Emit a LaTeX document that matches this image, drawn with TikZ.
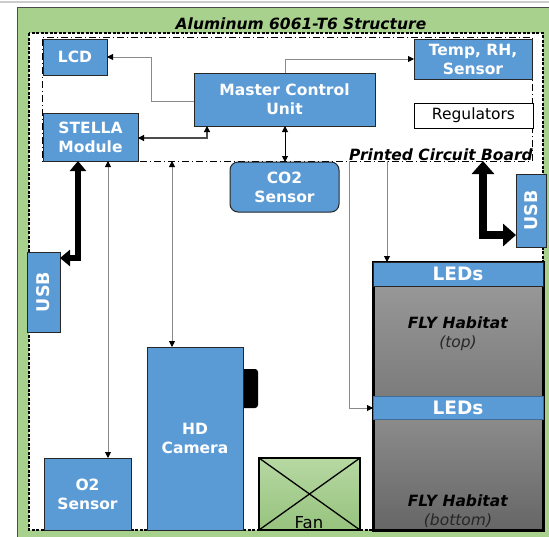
\documentclass[tikz,border=0pt]{standalone}
\usepackage{fontspec}
\setmainfont{DejaVu Sans}
\usetikzlibrary{arrows.meta}
\definecolor{boxblue}{HTML}{5B9BD5}
\definecolor{alugreen}{HTML}{A9D18E}
\definecolor{edgec}{HTML}{262626}
\definecolor{wirec}{HTML}{8A8A8A}
\definecolor{fantop}{HTML}{B7D8A3}
\definecolor{fanbot}{HTML}{96C37D}
\definecolor{habA}{HTML}{979797}
\definecolor{habB}{HTML}{7C7C7C}
\definecolor{habC}{HTML}{8B8B8B}
\definecolor{habD}{HTML}{666666}
\begin{document}
\begin{tikzpicture}[x=1pt,y=-1pt,
  lbl/.style={font=\fontsize{15.5}{19}\selectfont\bfseries, text=white, align=center},
  bbox/.style={draw=edgec, line width=1pt, fill=boxblue, inner sep=0pt, outer sep=0pt, anchor=north west, lbl},
  wire/.style={draw=wirec, line width=0.9pt},
  tip/.style={>={Triangle[length=6pt,width=6pt,color=black]}},
  ledbar/.style={bbox, font=\fontsize{18.5}{22}\selectfont\bfseries},
  usbbox/.style={draw=edgec, line width=1pt, fill=boxblue, inner sep=0pt, outer sep=0pt, rotate=90, lbl, font=\fontsize{17.5}{20}\selectfont\bfseries},
  habtext/.style={font=\fontsize{15.5}{19}\selectfont, text=black, align=center}
]
\useasboundingbox (0,0) rectangle (549,536);
% top gray rule
\draw[gray!40, line width=2pt] (0,2) -- (549,2);
% aluminium structure
\filldraw[fill=alugreen, draw=gray!60!black, line width=0.8pt] (17,7) rectangle (570,560);
\node[font=\fontsize{15.5}{19}\selectfont\bfseries\itshape, anchor=base] (title) at (301,29) {Aluminum 6061-T6 Structure};
% inner white area
\filldraw[fill=white, draw=black, line width=1.1pt, dash pattern=on 3pt off 1.5pt] (29,33) rectangle (543,530);
% printed circuit board
\node[draw=black, line width=0.8pt, dash pattern=on 7pt off 3pt on 1pt off 3pt, minimum width=490, minimum height=124, inner sep=0pt, outer sep=0pt, anchor=north west] (pcb) at (42,37) {};
% fly habitat
\shade[top color=habA, bottom color=habB] (373,286) rectangle (543,396);
\shade[top color=habC, bottom color=habD] (373,419) rectangle (543,530);
\node[draw=black, line width=3pt, minimum width=170, minimum height=268, inner sep=0pt, outer sep=0pt, anchor=north west] (hab) at (373,262) {};
\node[bbox, ledbar, minimum width=170, minimum height=24] (ledt) at (373,262) {LEDs};
\node[bbox, ledbar, draw=boxblue!70!black, minimum width=170, minimum height=23] (ledb) at (373,396) {LEDs};
\node[habtext] (habtop) at (458,334) {\textbf{\itshape FLY Habitat}\\{\itshape\color{black!85} (top)}};
\node[habtext] (habbot) at (458,511) {\textbf{\itshape FLY Habitat}\\{\itshape\color{black!85} (bottom)}};
% boxes
\node[bbox, minimum width=64, minimum height=36] (lcd) at (43,39) {LCD};
\node[bbox, minimum width=118, minimum height=40] (temp) at (414,39) {Temp, RH,\\Sensor};
\node[bbox, minimum width=181, minimum height=53] (mcu) at (194,73) {Master Control\\Unit};
\node[bbox, fill=white, draw=black, text=black, font=\fontsize{15.5}{19}\selectfont, minimum width=119, minimum height=25] (reg) at (414,103) {Regulators};
\node[bbox, minimum width=95, minimum height=48] (stella) at (43,113) {STELLA\\Module};
\node[font=\fontsize{15.5}{19}\selectfont\bfseries\itshape, anchor=base east, inner sep=0pt] (pcblabel) at (533,160) {Printed Circuit Board};
\node[bbox, rounded corners=8pt, minimum width=109, minimum height=50] (co2) at (230,162) {CO2\\Sensor};
\node[usbbox, minimum width=80, minimum height=33] (usbl) at (43.5,292) {USB};
\node[usbbox, minimum width=73, minimum height=30] (usbr) at (531,210.5) {USB};
\node[fill=black, rounded corners=3pt, minimum width=20, minimum height=39, inner sep=0pt, outer sep=0pt, anchor=north west] (lens) at (238,369) {};
\node[bbox, minimum width=96, minimum height=183] (cam) at (147,347) {HD\\Camera};
\node[bbox, minimum width=87, minimum height=72] (o2) at (44,458) {O2\\Sensor};
\node[draw=black, line width=1.6pt, top color=fantop, bottom color=fanbot, minimum width=101, minimum height=72, inner sep=0pt, outer sep=0pt, anchor=north west] (fan) at (259,458) {};
\draw[line width=1.3pt] (fan.north west) -- (fan.south east) (fan.north east) -- (fan.south west);
\node[font=\fontsize{16.5}{19}\selectfont, anchor=base] (fanlabel) at (309,528) {Fan};
% connectors
\begin{scope}[tip]
\draw[wire,->] (mcu.west |- 0,101) -- (151,101) |- (lcd.east |- 0,57);
\draw[wire,->] (mcu.north -| 285,0) |- (temp.west |- 0,59);
\draw[draw=black!70, line width=1.2pt,<->] (stella.east |- 0,138) -| (mcu.south -| 207,0);
\draw[draw=black, line width=1pt,<->] (mcu.south -| 285,0) -- (co2.north -| 285,0);
\draw[wire,<->] (stella.south -| 108,0) -- (o2.north -| 108,0);
\draw[wire,<->] (pcb.south -| 172,0) -- (cam.north -| 172,0);
\draw[wire,->] (pcb.south -| 349,0) |- (ledb.west |- 0,408);
\draw[wire,->] (pcb.south -| 387,0) -- (ledt.north -| 387,0);
\end{scope}
\draw[line width=6pt, {Triangle[length=10pt,width=16pt]}-{Triangle[length=10pt,width=16pt]}] (stella.south -| 78,0) |- (usbl.south |- 0,258);
\draw[line width=8pt, {Triangle[length=13pt,width=22pt]}-{Triangle[length=13pt,width=22pt]}] (pcb.south -| 483,0) |- (usbr.north |- 0,235);
\end{tikzpicture}
\end{document}
